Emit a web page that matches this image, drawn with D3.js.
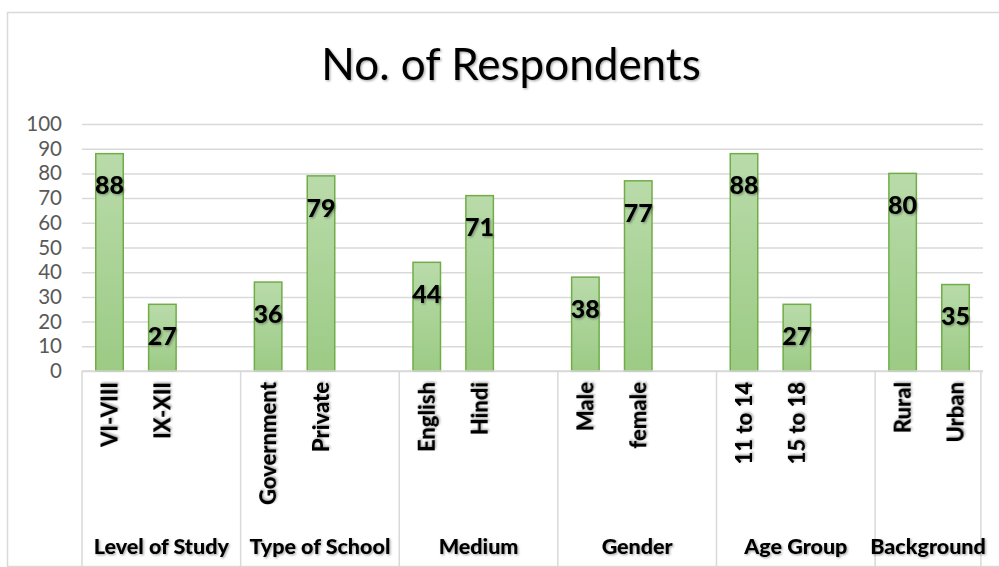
<!DOCTYPE html>
<html><head><meta charset="utf-8">
<script src="https://cdn.jsdelivr.net/npm/d3@7"></script>
<style>body{margin:0;background:#fff}svg{display:block}</style>
</head><body>
<svg id="c" width="999" height="567"></svg>
<script>
const groups = ["Level of Study","Type of School","Medium","Gender","Age Group","Background"];
const categories = ["VI-VIII","IX-XII","Government","Private","English","Hindi","Male","female","11 to 14","15 to 18","Rural","Urban"];
const categoryGroup = ["Level of Study","Level of Study","Type of School","Type of School","Medium","Medium","Gender","Gender","Age Group","Age Group","Background","Background"];
const values = [88,27,36,79,44,71,38,77,88,27,80,35];
const yTicks = [0,10,20,30,40,50,60,70,80,90,100];
const title = "No. of Respondents";

(function () {
const FONT = "Lato, 'Open Sans', sans-serif";
const svg = d3.select("#c");

const slots = [];
groups.forEach((g, gi) => {
  categories.forEach((c, i) => { if (categoryGroup[i] === g) slots.push({key: c, group: g, value: values[i]}); });
  if (gi < groups.length - 1) slots.push({key: "__blank" + gi, group: g, value: null});
});

const pLeft = 82, pRight = 983, pTop = 124, pBottom = 371;
const x = d3.scaleBand().domain(slots.map(d => d.key)).range([pLeft, pRight]).paddingInner(0.48).paddingOuter(0.26);
const y = d3.scaleLinear().domain([0, 100]).range([pBottom, pTop]);

svg.append("rect").attr("x", 7.5).attr("y", 12.5).attr("width", 1000).attr("height", 554)
  .attr("fill", "none").attr("stroke", "#d9d9d9").attr("stroke-width", 1.5);

const defs = svg.append("defs");
const grad = defs.append("linearGradient").attr("id", "g").attr("x1", 0).attr("x2", 0).attr("y1", 0).attr("y2", 1);
grad.append("stop").attr("offset", "0%").attr("stop-color", "#b9dbaa");
grad.append("stop").attr("offset", "100%").attr("stop-color", "#9ccb85");
const sh = defs.append("filter").attr("id", "sh").attr("x", "-10%").attr("y", "-10%").attr("width", "130%").attr("height", "140%");
sh.append("feDropShadow").attr("dx", 1.2).attr("dy", 1.2).attr("stdDeviation", 0.9).attr("flood-color", "#000").attr("flood-opacity", 0.35);

svg.append("text").attr("x", 511).attr("y", 80).attr("text-anchor", "middle")
  .attr("font-family", FONT).attr("font-size", 44).attr("fill", "#000").attr("filter", "url(#sh)")
  .text(title);

const yAxis = d3.axisLeft(y).tickValues(yTicks).tickSize(-(pRight - pLeft)).tickPadding(20);
const ya = svg.append("g").attr("transform", `translate(${pLeft},0)`).call(yAxis);
ya.select(".domain").remove();
ya.selectAll(".tick line").attr("stroke", "#d9d9d9").attr("stroke-width", 1.5);
ya.selectAll(".tick text").attr("font-family", FONT).attr("font-size", 20.5).attr("fill", "#595959").attr("x", -20);

const barSlots = slots.filter(d => d.value !== null);
svg.append("g").selectAll("rect").data(barSlots).join("rect")
  .attr("x", d => x(d.key)).attr("y", d => y(d.value))
  .attr("width", x.bandwidth()).attr("height", d => y(0) - y(d.value))
  .attr("fill", "url(#g)").attr("stroke", "#70ad47").attr("stroke-width", 1.5);

svg.append("g").selectAll("text").data(barSlots).join("text")
  .attr("x", d => x(d.key) + x.bandwidth() / 2).attr("y", d => y(d.value) + 32).attr("dy", "0.35em")
  .attr("text-anchor", "middle").attr("font-family", FONT).attr("font-weight", 900).attr("font-size", 25)
  .attr("fill", "#000").attr("filter", "url(#sh)").text(d => d.value);

const step = x.step();
const ax = svg.append("g").attr("stroke", "#d9d9d9").attr("stroke-width", 1.5);
ax.append("line").attr("x1", pLeft).attr("x2", pRight).attr("y1", pBottom).attr("y2", pBottom);
const bounds = [pLeft];
let cur = pLeft;
groups.forEach((g) => {
  const n = slots.filter(s => s.group === g).length;
  cur += n * step; bounds.push(cur);
});
ax.selectAll("line.sep").data(bounds).join("line").attr("class", "sep")
  .attr("x1", d => d).attr("x2", d => d).attr("y1", pBottom).attr("y2", 567);

svg.append("g").selectAll("text").data(barSlots).join("text")
  .attr("transform", d => `translate(${x(d.key) + x.bandwidth() / 2},382) rotate(-90)`)
  .attr("text-anchor", "end").attr("dy", "0.36em")
  .attr("font-family", FONT).attr("font-weight", 900).attr("font-size", 22).attr("fill", "#000")
  .attr("filter", "url(#sh)").text(d => d.key);

svg.append("g").selectAll("text").data(groups).join("text")
  .attr("x", (d, i) => (bounds[i] + bounds[i + 1]) / 2).attr("y", 554)
  .attr("text-anchor", "middle").attr("font-family", FONT).attr("font-weight", 900).attr("font-size", 21.5)
  .attr("fill", "#000").attr("filter", "url(#sh)").text(d => d);
})();
</script>
</body></html>
